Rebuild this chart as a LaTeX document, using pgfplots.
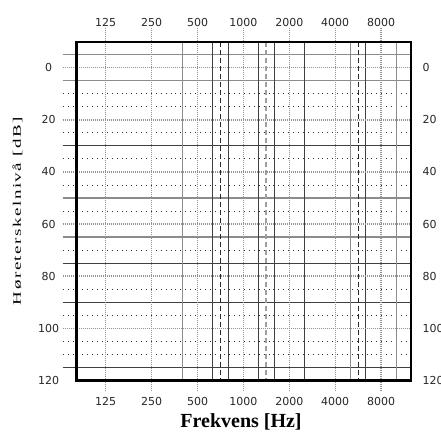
\documentclass[border=0pt]{standalone}
\usepackage{graphicx}
\usepackage{fontspec}
\setmainfont{Liberation Serif}
\newfontfamily\tickfont{DejaVu Sans}
\newfontfamily\ylabfont[LetterSpace=8]{Liberation Serif}
\usepackage{pgfplots}
\pgfplotsset{compat=1.18}

\definecolor{majgrid}{gray}{0.58}
\definecolor{solgray}{gray}{0.55}
\definecolor{soldark}{gray}{0.25}

\pgfplotsset{
  audframe/.style={
    width=334pt, height=338.6pt, scale only axis,
    xmin=-0.632, xmax=6.645, ymin=-10, ymax=120, y dir=reverse,
    xtick={0,...,6}, xticklabels={125,250,500,1000,2000,4000,8000},
    ytick={0,20,...,120},
    major tick length=0pt,
    axis line style={line width=2.4pt},
    ticklabel style={font=\tickfont\fontsize{11}{13}\selectfont, text=black!85, inner sep=0pt},
    /pgf/number format/assume math mode=true,
    clip=false, axis on top,
  },
  majline/.style={majgrid, line width=1.4pt, dash pattern=on 1pt off 1pt},
  grayline/.style={solgray, line width=1.2pt},
  darkline/.style={soldark, line width=1pt},
  dotline/.style={black!80, line width=0.9pt, dash pattern=on 0.9pt off 4pt},
}

\begin{document}
\begin{tikzpicture}
\begin{axis}[audframe,
  xticklabel style={anchor=center, yshift=-20.7pt},
  yticklabel style={anchor=center, xshift=-28pt},
  xlabel={Frekvens [Hz]},
  xlabel style={at={(axis description cs:0.492,-0.139)}, anchor=base, font=\fontsize{20}{24}\selectfont\bfseries},
  ylabel={\scalebox{1.65}[1]{\ylabfont\fontsize{11.5}{13}\selectfont Høreterskelnivå [dB]}},
  ylabel style={at={(axis description cs:-0.177,0.5)}, anchor=center},
]
% horizontal lines (dB)
\pgfplotsinvokeforeach{10,15,25,35,45,55,70,85,95,105,110}{
  \addplot[dotline] coordinates {(-0.937,#1) (6.645,#1)};
}
\pgfplotsinvokeforeach{-5,5,50,65}{
  \addplot[grayline] coordinates {(-0.937,#1) (6.645,#1)};
}
\pgfplotsinvokeforeach{30,75,90,115}{
  \addplot[darkline] coordinates {(-0.937,#1) (6.645,#1)};
}
% vertical lines (octaves above 125 Hz)
\pgfplotsinvokeforeach{1.667,5.333,6.333}{
  \addplot[grayline] coordinates {(#1,-10) (#1,120)};
}
\pgfplotsinvokeforeach{2.333,2.667,3.333,3.667,4.333,5.667}{
  \addplot[darkline] coordinates {(#1,-10) (#1,120)};
}
\pgfplotsinvokeforeach{2.5,5.5}{
  \addplot[black!85, line width=0.9pt, dash pattern=on 5pt off 3pt] coordinates {(#1,-10) (#1,120)};
}
\addplot[gray!75, line width=1.8pt, dash pattern=on 5pt off 3pt] coordinates {(3.5,-10) (3.5,120)};
% major grid
\pgfplotsinvokeforeach{0,20,40,60,80,100}{
  \addplot[majline] coordinates {(-0.937,#1) (6.645,#1)};
}
\pgfplotsinvokeforeach{0,1,2,3,4,5,6}{
  \addplot[majline] coordinates {(#1,-15.3) (#1,123.7)};
}
\end{axis}
\begin{axis}[audframe, xticklabel pos=upper, yticklabel pos=right,
  xticklabel style={anchor=center, yshift=19.7pt},
  yticklabel style={anchor=west, xshift=11.8pt},
]
\end{axis}
\pgfresetboundingbox
\path (-76.7pt,-51.7pt) rectangle (364.3pt,380.3pt);
\end{tikzpicture}
\end{document}
